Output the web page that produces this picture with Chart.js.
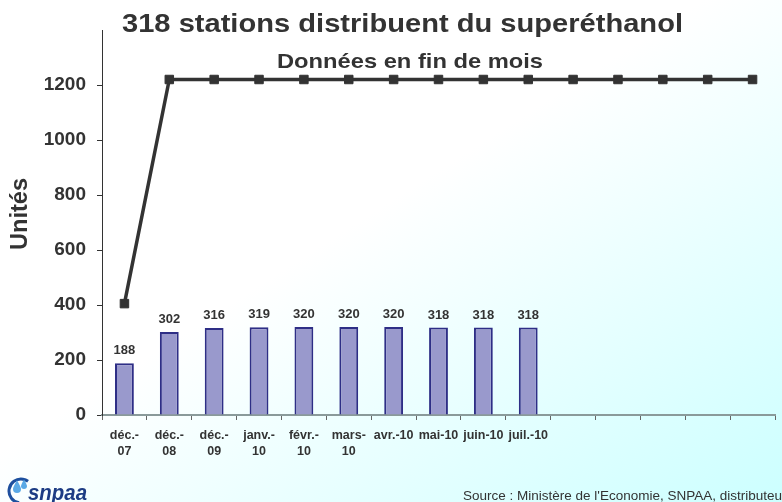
<!DOCTYPE html>
<html><head><meta charset="utf-8">
<script src="https://cdn.jsdelivr.net/npm/chart.js@4/dist/chart.umd.min.js"></script>
<style>
html,body{margin:0;padding:0;width:782px;height:502px;overflow:hidden;}
body{background:linear-gradient(to bottom right,#ffffff 0%,#ffffff 45%,#ccffff 100%);}
#wrap{position:relative;width:782px;height:502px;}
canvas{display:block;}
</style></head><body>
<div id="wrap"><canvas id="c" width="782" height="502"></canvas></div>
<script>
// ---- data ----
const categories = [["déc.-","07"],["déc.-","08"],["déc.-","09"],["janv.-","10"],["févr.-","10"],["mars-","10"],"avr.-10","mai-10","juin-10","juil.-10","","","","",""];
const stations = [188,302,316,319,320,320,320,318,318,318];
const lineSeries = [405,1220,1220,1220,1220,1220,1220,1220,1220,1220,1220,1220,1220,1220,1220];
const yTicks = [0,200,400,600,800,1000,1200];
const yMax = 1400;
const titleText = "318 stations distribuent du superéthanol";
const subtitleText = "Données en fin de mois";
const yTitle = "Unités";
const sourceText = "Source : Ministère de l'Economie, SNPAA, distributeurs";
const logoText = "snpaa";

const FONT = "'Liberation Sans', Arial, Helvetica, sans-serif";
const TXT = '#333333';

function fitText(ctx, text, x, y, font, targetW, align) {
  ctx.font = font;
  const w = ctx.measureText(text).width;
  ctx.save();
  ctx.translate(x, y);
  ctx.scale(targetW / w, 1);
  ctx.textAlign = align || 'left';
  ctx.fillText(text, 0, 0);
  ctx.restore();
}

const decor = {
  id: 'decor',
  afterDraw(chart) {
    const ctx = chart.ctx;
    ctx.save();
    ctx.fillStyle = TXT;
    ctx.textBaseline = 'alphabetic';
    // titles
    fitText(ctx, titleText, 122, 32, "bold 26.5px " + FONT, 561);
    fitText(ctx, subtitleText, 277, 68, "bold 21px " + FONT, 266);
    // y title
    ctx.save();
    ctx.translate(27, 214);
    ctx.rotate(-Math.PI / 2);
    ctx.font = "bold 24px " + FONT;
    const w = ctx.measureText(yTitle).width;
    ctx.scale(72 / w, 1);
    ctx.textAlign = 'center';
    ctx.fillText(yTitle, 0, 0);
    ctx.restore();
    // bar value labels
    const meta = chart.getDatasetMeta(1);
    ctx.font = "bold 13px " + FONT;
    ctx.textAlign = 'center';
    meta.data.forEach((el, i) => {
      ctx.fillText(String(stations[i]), el.x, el.y - 9);
    });
    // source
    ctx.textAlign = 'left';
    ctx.font = "13.5px " + FONT;
    ctx.fillText(sourceText, 463, 500);
    // logo
    ctx.strokeStyle = '#1d4f9e';
    ctx.lineWidth = 3;
    ctx.beginPath();
    ctx.arc(21, 491, 12, Math.PI * 0.55, Math.PI * 1.7);
    ctx.stroke();
    ctx.fillStyle = '#5aa9e6';
    [[17, 489, 4], [24, 486, 3]].forEach(([x, y, r]) => {
      ctx.beginPath();
      ctx.moveTo(x, y - r * 2.2);
      ctx.quadraticCurveTo(x + r, y - r * 0.5, x + r, y);
      ctx.arc(x, y, r, 0, Math.PI);
      ctx.quadraticCurveTo(x - r, y - r * 0.5, x, y - r * 2.2);
      ctx.fill();
    });
    ctx.fillStyle = '#1d3c84';
    fitText(ctx, logoText, 28, 500, "italic bold 22px " + FONT, 59);
    ctx.restore();
  }
};

new Chart(document.getElementById('c'), {
  data: {
    labels: categories,
    datasets: [
      {
        type: 'line',
        data: lineSeries,
        borderColor: '#333333',
        borderWidth: 3.5,
        pointStyle: 'rect',
        pointRadius: 6,
        pointBorderWidth: 1,
        pointBackgroundColor: '#333333',
        pointBorderColor: '#333333',
        tension: 0,
        order: 0
      },
      {
        type: 'bar',
        data: stations,
        backgroundColor: '#9999cc',
        borderColor: '#2e2e86',
        borderWidth: 2,
        barPercentage: 0.42,
        categoryPercentage: 1.0,
        order: 1
      }
    ]
  },
  options: {
    responsive: false,
    animation: false,
    events: [],
    layout: { padding: { top: 30, right: 0, bottom: 0, left: 0 } },
    plugins: { legend: { display: false }, tooltip: { enabled: false } },
    scales: {
      x: {
        offset: true,
        grid: { offset: true, drawOnChartArea: false, tickLength: 5, color: '#666666', lineWidth: 1 },
        border: { color: '#8a9a9a', width: 2 },
        ticks: { color: TXT, font: { family: FONT, size: 12.5, weight: 'bold', lineHeight: 1.28 }, padding: 8, maxRotation: 0, autoSkip: false },
        afterFit: (s) => { s.height = 87; }
      },
      y: {
        min: 0,
        max: yMax,
        afterBuildTicks: (s) => { s.ticks = yTicks.map(v => ({ value: v })); },
        grid: { drawOnChartArea: false, tickLength: 5, color: '#333333' },
        border: { color: '#333333', width: 1 },
        ticks: { color: TXT, font: { family: FONT, size: 19, weight: 'bold' }, padding: 11, callback: (v) => String(v) },
        afterFit: (s) => { s.width = 102; }
      }
    }
  },
  plugins: [decor]
});
</script>
</body></html>
